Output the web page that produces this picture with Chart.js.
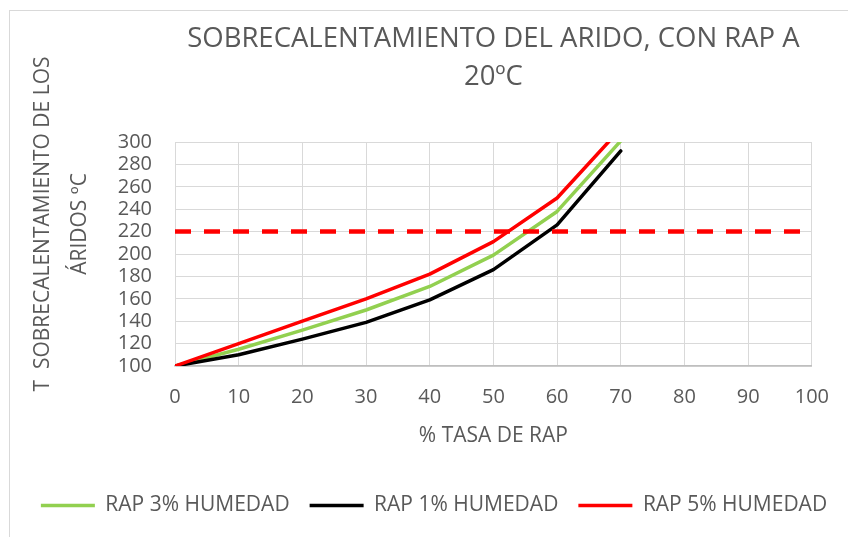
<!DOCTYPE html>
<html>
<head>
<meta charset="utf-8">
<script src="https://cdn.jsdelivr.net/npm/chart.js@4.4.0/dist/chart.umd.min.js"></script>
<style>
html,body{margin:0;padding:0;background:#fff;}
</style>
</head>
<body>
<canvas id="grafico" width="848" height="537"></canvas>
<script>
// datos
const tasaRap = [0, 10, 20, 30, 40, 50, 60, 70];
const rap3 = [100, 115, 132, 150, 171, 199, 238, 301];
const rap1 = [100, 110, 124, 139, 159, 186, 226, 292];
const rap5 = [100, 120, 140, 160, 182, 211, 250, 312];
const limiteX = [0, 100];
const limiteY = [220, 220];

const nombres = ["RAP 3% HUMEDAD", "RAP 1% HUMEDAD", "RAP 5% HUMEDAD"];
const tituloLineas = ["SOBRECALENTAMIENTO DEL ARIDO, CON RAP A", "20ºC"];
const tituloY = ["T  SOBRECALENTAMIENTO DE LOS", "ÁRIDOS ºC"];
const tituloX = "% TASA DE RAP";

const GRIS = "#595959";

function puntos(xs, ys){
    return xs.map((x, i) => ({x: x, y: ys[i]}));
}

function serie(nombre, ys, color, orden){
    return {
        label: nombre,
        data: puntos(tasaRap, ys),
        borderColor: color,
        backgroundColor: color,
        borderWidth: 3.5,
        borderCapStyle: "round",
        borderJoinStyle: "round",
        pointRadius: 0,
        tension: 0,
        fill: false,
        order: orden
    };
}

// marco exterior y titulo del eje Y
const marcoYTitulo = {
    id: "marcoYTitulo",
    beforeDraw(chart){
        const c = chart.ctx;
        c.save();
        c.fillStyle = "#ffffff";
        c.fillRect(0, 0, chart.width, chart.height);
        c.strokeStyle = "#d9d9d9";
        c.lineWidth = 1;
        c.strokeRect(9.5, 10.5, chart.width, chart.height);
        c.restore();
    },
    afterDraw(chart){
        const c = chart.ctx;
        c.save();
        c.fillStyle = GRIS;
        c.font = "21px 'Open Sans'";
        c.textAlign = "center";
        c.textBaseline = "middle";
        tituloY.forEach((linea, i) => {
            c.save();
            c.translate(43 + i * 37, 224);
            c.rotate(-Math.PI / 2);
            c.fillText(linea, 0, 0);
            c.restore();
        });
        c.restore();
    }
};

Chart.defaults.font.family = "'Open Sans', sans-serif";
Chart.defaults.color = GRIS;

const ctx = document.getElementById("grafico");

new Chart(ctx, {
    type: "line",
    data: {
        datasets: [
            serie(nombres[0], rap3, "#92d050", 3),
            serie(nombres[1], rap1, "#000000", 2),
            serie(nombres[2], rap5, "#ff0000", 1),
            {
                label: "limite",
                data: puntos(limiteX, limiteY),
                borderColor: "#ff0000",
                borderWidth: 4.5,
                borderDash: [16, 13],
                borderCapStyle: "butt",
                pointRadius: 0,
                fill: false,
                order: 0
            }
        ]
    },
    options: {
        responsive: false,
        animation: false,
        layout: {
            padding: {left: 20, right: 0, top: 0, bottom: 11}
        },
        plugins: {
            title: {
                display: true,
                fullSize: false,
                text: tituloLineas,
                color: GRIS,
                font: {size: 27.5, weight: "normal", lineHeight: "38px"},
                padding: {top: 20, bottom: 46}
            },
            legend: {
                position: "bottom",
                labels: {
                    usePointStyle: true,
                    pointStyle: "line",
                    pointStyleWidth: 54,
                    padding: 20,
                    color: GRIS,
                    font: {size: 21},
                    filter: item => item.datasetIndex < 3,
                    sort: (a, b) => a.datasetIndex - b.datasetIndex
                }
            },
            tooltip: {enabled: false}
        },
        scales: {
            x: {
                type: "linear",
                min: 0,
                max: 100,
                ticks: {stepSize: 10, padding: 19, color: GRIS, font: {size: 20}},
                grid: {color: "#d9d9d9", lineWidth: 1, drawTicks: false},
                border: {color: "#bfbfbf", width: 1.5},
                title: {
                    display: true,
                    text: tituloX,
                    color: GRIS,
                    font: {size: 21},
                    padding: {top: 0, bottom: 26}
                },
                afterFit(s){ s.height = 109; }
            },
            y: {
                type: "linear",
                min: 100,
                max: 300,
                ticks: {stepSize: 20, autoSkip: false, padding: 23, color: GRIS, font: {size: 20}},
                grid: {color: "#d9d9d9", lineWidth: 1, drawTicks: false},
                border: {color: "#d9d9d9", width: 1},
                afterFit(s){ s.width = 155; }
            },
            yDer: {
                type: "linear",
                position: "right",
                display: true,
                ticks: {display: false},
                grid: {display: false},
                border: {display: false},
                afterFit(s){ s.width = 34; }
            }
        }
    },
    plugins: [marcoYTitulo]
});
</script>
</body>
</html>
